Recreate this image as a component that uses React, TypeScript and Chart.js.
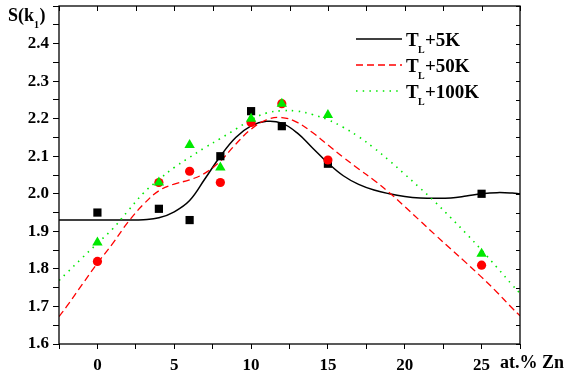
import { useEffect, useRef } from 'react';
import { Chart, registerables } from 'chart.js';

Chart.register(...registerables);

// Fitted curves, sampled along the composition axis (at.% Zn)
const curveX = [-2.5, -2, -1, 0, 1, 2, 3, 4, 5, 6, 7, 8, 9, 10, 11, 12, 13, 14, 15, 16, 17, 18, 19, 20, 21, 22, 23, 24, 25, 26, 27, 27.5];
const curve5K = [1.930, 1.930, 1.930, 1.930, 1.930, 1.930, 1.931, 1.936, 1.952, 1.982, 2.040, 2.100, 2.150, 2.181, 2.193, 2.188, 2.162, 2.122, 2.082, 2.048, 2.025, 2.010, 2.000, 1.993, 1.989, 1.988, 1.989, 1.994, 2.000, 2.003, 2.002, 2.000];
const curve50K = [1.673, 1.700, 1.758, 1.815, 1.868, 1.925, 1.972, 2.008, 2.026, 2.037, 2.055, 2.087, 2.132, 2.172, 2.197, 2.203, 2.190, 2.163, 2.130, 2.097, 2.066, 2.036, 2.003, 1.966, 1.928, 1.890, 1.853, 1.816, 1.778, 1.738, 1.695, 1.675];
const curve100K = [1.769, 1.789, 1.829, 1.868, 1.907, 1.955, 2.002, 2.038, 2.070, 2.097, 2.123, 2.147, 2.172, 2.197, 2.215, 2.221, 2.220, 2.211, 2.197, 2.177, 2.152, 2.122, 2.088, 2.052, 2.015, 1.977, 1.936, 1.894, 1.850, 1.804, 1.757, 1.735];

// Measured S(k1) values
const pointX = [0, 4, 6, 8, 10, 12, 15, 25];
const points5K = [1.95, 1.96, 1.93, 2.10, 2.22, 2.18, 2.08, 2.00];
const points50K = [1.82, 2.03, 2.06, 2.03, 2.19, 2.24, 2.09, 1.81];
const points100K = [1.87, 2.03, 2.13, 2.07, 2.20, 2.24, 2.21, 1.84];

const seriesLabels = ['+5K', '+50K', '+100K'];
const xTickLabels = [0, 5, 10, 15, 20, 25];
const yTickLabels = [1.6, 1.7, 1.8, 1.9, 2.0, 2.1, 2.2, 2.3, 2.4];

const SERIF = '"Liberation Serif", "Times New Roman", serif';
const GREEN = '#00e800';
const RED = '#ff0000';
const BLACK = '#000000';

const lineStyles = [
  { color: BLACK, dash: [] as number[], width: 1.5 },
  { color: RED, dash: [7, 4], width: 1.3 },
  { color: GREEN, dash: [1.5, 5.2], width: 1.6 },
];

const pairs = (xs: number[], ys: number[]) => xs.map((x, i) => ({ x, y: ys[i] }));

// Frame, inward mirror ticks, legend and axis captions
const decorations = {
  id: 'decorations',
  afterDraw(chart: any) {
    const { ctx, chartArea: a, scales } = chart;
    const xs = scales.x;
    const ys = scales.y;
    ctx.save();
    ctx.strokeStyle = BLACK;
    ctx.lineWidth = 1.3;
    ctx.strokeRect(a.left, a.top, a.right - a.left, a.bottom - a.top);

    ctx.lineWidth = 1;
    ctx.beginPath();
    xs.ticks.forEach((t: any) => {
      const px = Math.round(xs.getPixelForValue(t.value)) + 0.5;
      ctx.moveTo(px, a.top);
      ctx.lineTo(px, a.top + 5);
    });
    ys.ticks.forEach((t: any) => {
      const py = Math.round(ys.getPixelForValue(t.value)) + 0.5;
      ctx.moveTo(a.right, py);
      ctx.lineTo(a.right - 4, py);
    });
    ctx.stroke();

    // legend
    ctx.fillStyle = BLACK;
    ctx.textBaseline = 'alphabetic';
    ctx.textAlign = 'left';
    seriesLabels.forEach((label, i) => {
      const st = lineStyles[i];
      const ly = 39 + i * 26;
      ctx.save();
      ctx.strokeStyle = st.color;
      ctx.lineWidth = st.width;
      ctx.setLineDash(st.dash);
      ctx.beginPath();
      ctx.moveTo(356, ly);
      ctx.lineTo(402, ly);
      ctx.stroke();
      ctx.restore();
      ctx.font = `bold 19px ${SERIF}`;
      ctx.fillText('T', 406, ly + 6.5);
      ctx.font = `bold 10px ${SERIF}`;
      ctx.fillText('L', 418, ly + 14);
      ctx.font = `bold 19px ${SERIF}`;
      ctx.fillText(label, 425, ly + 6.5);
    });

    // y caption S(k1)
    ctx.font = `bold 18px ${SERIF}`;
    let cx = 8;
    ctx.fillText('S(k', cx, 21);
    cx += ctx.measureText('S(k').width;
    ctx.font = `bold 10px ${SERIF}`;
    ctx.fillText('1', cx, 28);
    cx += ctx.measureText('1').width + 0.5;
    ctx.font = `bold 18px ${SERIF}`;
    ctx.fillText(')', cx, 21);

    // x caption
    ctx.fillText('at.% Zn', 500, 368);
    ctx.restore();
  },
};

export default function App() {
  const ref = useRef<HTMLCanvasElement | null>(null);

  useEffect(() => {
    if (!ref.current) return;
    const tickFont = { family: SERIF, size: 17, weight: 'bold' as const };
    const chart = new Chart(ref.current, {
      type: 'scatter',
      data: {
        datasets: [
          { label: 'p100', data: pairs(pointX, points100K), showLine: false, pointStyle: 'triangle', pointRadius: 6, backgroundColor: GREEN, borderWidth: 0, order: 0 },
          { label: 'p50', data: pairs(pointX, points50K), showLine: false, pointStyle: 'circle', pointRadius: 4.6, backgroundColor: RED, borderWidth: 0, order: 1 },
          { label: 'p5', data: pairs(pointX, points5K), showLine: false, pointStyle: 'rect', pointRadius: 5.8, backgroundColor: BLACK, borderWidth: 0, order: 2 },
          { label: 'c100', data: pairs(curveX, curve100K), showLine: true, pointRadius: 0, borderColor: GREEN, borderWidth: lineStyles[2].width, borderDash: lineStyles[2].dash, tension: 0.4, order: 3 },
          { label: 'c50', data: pairs(curveX, curve50K), showLine: true, pointRadius: 0, borderColor: RED, borderWidth: lineStyles[1].width, borderDash: lineStyles[1].dash, tension: 0.4, order: 4 },
          { label: 'c5', data: pairs(curveX, curve5K), showLine: true, pointRadius: 0, borderColor: BLACK, borderWidth: lineStyles[0].width, tension: 0.4, order: 5 },
        ],
      },
      options: {
        responsive: false,
        animation: false,
        layout: { padding: { left: 0, top: 3, right: 48, bottom: 0 } },
        plugins: { legend: { display: false }, tooltip: { enabled: false } },
        scales: {
          x: {
            type: 'linear',
            min: -2.5,
            max: 27.5,
            afterFit: (s: any) => {
              s.height = 32;
              s.paddingLeft = 0;
              s.paddingRight = 0;
            },
            grid: { drawOnChartArea: false, drawTicks: true, tickLength: 5, color: BLACK, lineWidth: 1 },
            border: { display: false },
            ticks: {
              stepSize: 2.5,
              autoSkip: false,
              maxRotation: 0,
              padding: 6,
              color: BLACK,
              font: tickFont,
              callback: (v: any) => (xTickLabels.includes(Number(v)) ? String(v) : ''),
            },
          },
          y: {
            type: 'linear',
            min: 1.6,
            max: 2.5,
            afterFit: (s: any) => {
              s.width = 59;
              s.paddingTop = 0;
              s.paddingBottom = 0;
            },
            grid: { drawOnChartArea: false, drawTicks: true, tickLength: 6, color: BLACK, lineWidth: 1 },
            border: { display: false },
            ticks: {
              stepSize: 0.05,
              autoSkip: false,
              padding: 4,
              color: BLACK,
              font: tickFont,
              callback: (v: any) => {
                const n = Math.round(Number(v) * 100) / 100;
                return yTickLabels.some((t) => Math.abs(t - n) < 1e-6) ? n.toFixed(1) : '';
              },
            },
          },
        },
      },
      plugins: [decorations],
    });
    return () => chart.destroy();
  }, []);

  return (
    <div style={{ position: 'fixed', left: 0, top: 0, width: 568, height: 376, background: '#fff' }}>
      <canvas ref={ref} width={568} height={376} style={{ display: 'block' }} />
    </div>
  );
}
